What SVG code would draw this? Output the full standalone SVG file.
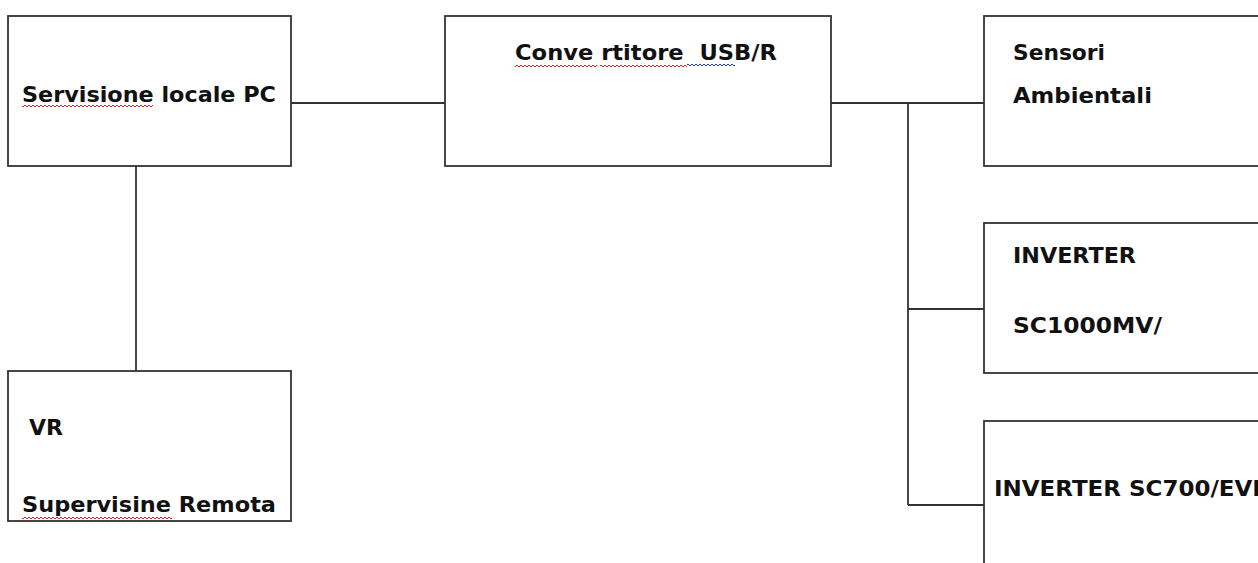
<svg xmlns="http://www.w3.org/2000/svg" width="1258" height="563" viewBox="0 0 1258 563">
<style>
.box{fill:#fff;stroke:#333;stroke-width:1.8}
.ln{fill:none;stroke:#333;stroke-width:1.8}
.t{font-family:"DejaVu Sans","Liberation Sans",sans-serif;font-weight:bold;font-size:22px;fill:#111}
.wb{fill:none;stroke:#2030e0;stroke-width:1}
</style>
<defs>
<pattern id="wave" width="4" height="4" patternUnits="userSpaceOnUse"><path d="M0 2 L1 1 L2 2 L3 3 L4 2" fill="none" stroke="#e02020" stroke-width="1"/></pattern>
</defs>
<rect width="1258" height="563" fill="#fff"/>
<g id="connectors">
<line class="ln" x1="291" y1="103" x2="445" y2="103"/>
<line class="ln" x1="136" y1="166" x2="136" y2="371"/>
<line class="ln" x1="831" y1="103" x2="984" y2="103"/>
<line class="ln" x1="908" y1="103" x2="908" y2="505"/>
<line class="ln" x1="908" y1="309" x2="984" y2="309"/>
<line class="ln" x1="908" y1="505" x2="984" y2="505"/>
</g>
<g id="node-pc">
<rect class="box" x="8" y="16" width="283" height="150"/>
<text class="t" x="22" y="102" textLength="254" lengthAdjust="spacingAndGlyphs">Servisione locale PC</text>
<rect x="22" y="105" width="131" height="4" fill="url(#wave)"/>
</g>
<g id="node-conv">
<rect class="box" x="445" y="16" width="386" height="150"/>
<text class="t" x="515" y="60" textLength="262" lengthAdjust="spacingAndGlyphs">Conve rtitore&#160; USB/R</text>
<rect x="515" y="63" width="82" height="4" fill="url(#wave)"/>
<rect x="600" y="63" width="87" height="4" fill="url(#wave)"/>
<path class="wb" d="M687 65 l1 -1 l1 1 l1 1 l1 -1 l1 -1 l1 1 l1 1 l1 -1 l1 -1 l1 1 l1 1 l1 -1 l1 -1 l1 1 l1 1 l1 -1 l1 -1 l1 1 l1 1 l1 -1 l1 -1 l1 1 l1 1 l1 -1 l1 -1 l1 1 l1 1 l1 -1 l1 -1 l1 1 l1 1 l1 -1 l1 -1 l1 1 l1 1 l1 -1 l1 -1 l1 1 l1 1 l1 -1 l1 -1 l1 1 l1 1 l1 -1 l1 -1 l1 1 l1 1 l1 -1"/>
</g>
<g id="node-sensori">
<rect class="box" x="984" y="16" width="290" height="150"/>
<text class="t" x="1013" y="60" textLength="92" lengthAdjust="spacingAndGlyphs">Sensori</text>
<text class="t" x="1013" y="103" textLength="139" lengthAdjust="spacingAndGlyphs">Ambientali</text>
</g>
<g id="node-inv1">
<rect class="box" x="984" y="223" width="290" height="150"/>
<text class="t" x="1013" y="263" textLength="123" lengthAdjust="spacingAndGlyphs">INVERTER</text>
<text class="t" x="1013" y="333" textLength="149" lengthAdjust="spacingAndGlyphs">SC1000MV/</text>
</g>
<g id="node-inv2">
<rect class="box" x="984" y="421" width="290" height="160"/>
<text class="t" x="994" y="496" textLength="276" lengthAdjust="spacingAndGlyphs">INVERTER SC700/EVR</text>
</g>
<g id="node-vr">
<rect class="box" x="8" y="371" width="283" height="150"/>
<text class="t" x="29" y="435" textLength="34" lengthAdjust="spacingAndGlyphs">VR</text>
<text class="t" x="22" y="512" textLength="254" lengthAdjust="spacingAndGlyphs">Supervisine Remota</text>
<rect x="22" y="515" width="150" height="4" fill="url(#wave)"/>
</g>
</svg>
